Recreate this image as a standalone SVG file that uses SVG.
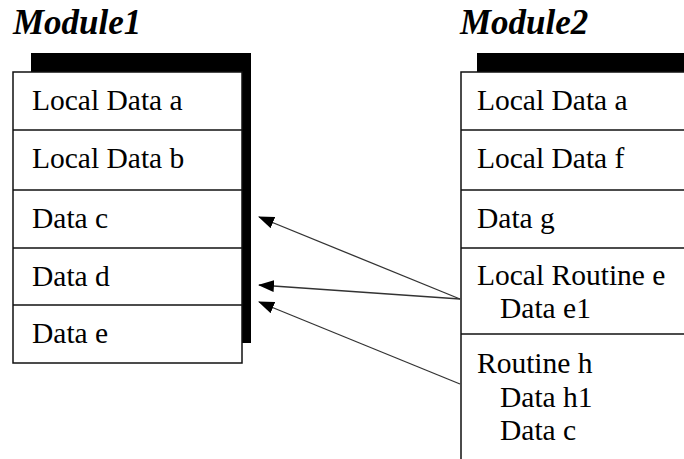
<svg xmlns="http://www.w3.org/2000/svg" width="684" height="459" viewBox="0 0 684 459">
<style>
.title{font-family:"Liberation Serif",serif;font-weight:bold;font-style:italic;font-size:35px;fill:#000}
.t{font-family:"Liberation Serif",serif;font-size:29.5px;fill:#000}
.box{fill:#fff;stroke:#111;stroke-width:1.5}
.div{stroke:#111;stroke-width:1.5}
.conn{stroke:#333;stroke-width:1.3;fill:none}
</style>
<defs>
<marker id="ah" markerWidth="16" markerHeight="12" refX="15" refY="6" orient="auto" markerUnits="userSpaceOnUse">
<path d="M0,0 L16,6 L0,12 Z" fill="#000"/>
</marker>
</defs>
<rect width="684" height="459" fill="#fff"/>
<g id="module1">
<text class="title" x="13" y="34">Module1</text>
<rect x="31" y="53" width="220" height="290" fill="#000"/>
<rect class="box" x="13" y="72" width="229" height="291"/>
<line class="div" x1="13" y1="130" x2="242" y2="130"/>
<line class="div" x1="13" y1="190" x2="242" y2="190"/>
<line class="div" x1="13" y1="248" x2="242" y2="248"/>
<line class="div" x1="13" y1="305" x2="242" y2="305"/>
<text class="t" x="32" y="110">Local Data a</text>
<text class="t" x="32" y="168">Local Data b</text>
<text class="t" x="32" y="228">Data c</text>
<text class="t" x="32" y="286">Data d</text>
<text class="t" x="32" y="343">Data e</text>
</g>
<g id="module2">
<text class="title" x="460" y="34">Module2</text>
<rect x="477" y="53" width="230" height="420" fill="#000"/>
<rect class="box" x="461" y="72" width="240" height="400"/>
<line class="div" x1="461" y1="130" x2="701" y2="130"/>
<line class="div" x1="461" y1="190" x2="701" y2="190"/>
<line class="div" x1="461" y1="248" x2="701" y2="248"/>
<line class="div" x1="461" y1="334" x2="701" y2="334"/>
<text class="t" x="477" y="110">Local Data a</text>
<text class="t" x="477" y="168">Local Data f</text>
<text class="t" x="477" y="228">Data g</text>
<text class="t" x="477" y="285">Local Routine e</text>
<text class="t" x="500" y="318">Data e1</text>
<text class="t" x="477" y="373">Routine h</text>
<text class="t" x="500" y="407">Data h1</text>
<text class="t" x="500" y="440">Data c</text>
</g>
<g id="connectors">
<line class="conn" x1="460" y1="299" x2="259" y2="217" marker-end="url(#ah)"/>
<line class="conn" x1="460" y1="299" x2="259" y2="285" marker-end="url(#ah)"/>
<line class="conn" x1="460" y1="384" x2="259" y2="302" marker-end="url(#ah)"/>
</g>
</svg>
